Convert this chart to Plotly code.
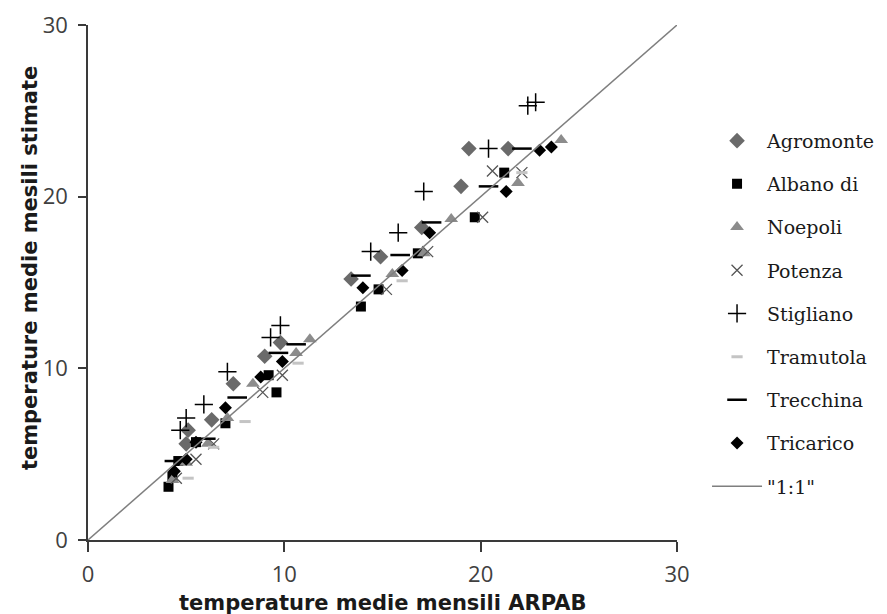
import plotly.graph_objects as go

# ---- data ----
agromonte_x = [5.0, 5.1, 6.3, 7.4, 9.0, 9.8, 13.4, 14.9, 17.0, 19.0, 19.4, 21.4]
agromonte_y = [5.6, 6.4, 7.0, 9.1, 10.7, 11.5, 15.2, 16.5, 18.2, 20.6, 22.8, 22.8]

albano_x = [4.1, 4.3, 4.6, 5.5, 7.0, 9.2, 9.6, 13.9, 14.8, 16.8, 19.7, 21.2]
albano_y = [3.1, 3.7, 4.6, 5.7, 6.8, 9.6, 8.6, 13.6, 14.6, 16.7, 18.8, 21.4]

noepoli_x = [4.3, 5.0, 6.1, 7.1, 8.4, 10.6, 11.3, 15.5, 17.1, 18.5, 21.9, 24.1]
noepoli_y = [3.5, 4.5, 5.6, 7.1, 9.1, 10.9, 11.7, 15.5, 16.7, 18.7, 20.8, 23.3]

potenza_x = [4.5, 5.5, 6.4, 8.9, 9.9, 15.2, 17.3, 20.1, 20.6, 22.1]
potenza_y = [3.6, 4.7, 5.6, 8.6, 9.6, 14.6, 16.8, 18.8, 21.5, 21.4]

stigliano_x = [4.7, 5.0, 5.9, 7.1, 9.3, 9.8, 14.4, 15.8, 17.1, 20.4, 22.4, 22.8]
stigliano_y = [6.4, 7.1, 7.9, 9.8, 11.8, 12.5, 16.8, 17.9, 20.3, 22.8, 25.3, 25.5]

tramutola_x = [5.1, 6.4, 8.0, 10.7, 16.0, 22.1]
tramutola_y = [3.6, 5.4, 6.9, 10.3, 15.1, 21.4]

trecchina_x = [4.4, 6.0, 7.6, 9.7, 10.6, 13.9, 15.9, 17.5, 20.4, 22.1]
trecchina_y = [4.6, 5.9, 8.3, 10.9, 11.4, 15.4, 16.6, 18.5, 20.6, 22.8]

tricarico_x = [4.4, 5.0, 5.5, 7.0, 8.8, 9.9, 14.0, 16.0, 17.4, 21.3, 23.0, 23.6]
tricarico_y = [4.0, 4.7, 5.7, 7.7, 9.5, 10.4, 14.7, 15.7, 17.9, 20.3, 22.7, 22.9]

one_to_one = [0, 30]
tick_vals = [0, 10, 20, 30]

x_title = "temperature medie mensili ARPAB"
y_title = "temperature medie mesili stimate"

fig = go.Figure()

def add(name, xs, ys, marker):
    fig.add_trace(go.Scatter(x=xs, y=ys, mode="markers", name=name,
                             legendgroup=name, marker=marker, cliponaxis=False))

add("Agromonte", agromonte_x, agromonte_y,
    dict(symbol="diamond", size=12, color="#6a6a6a"))
add("Albano di", albano_x, albano_y,
    dict(symbol="square", size=10, color="#000000"))
add("Noepoli", noepoli_x, noepoli_y,
    dict(symbol="triangle-up", size=12, color="#8c8c8c"))
add("Potenza", potenza_x, potenza_y,
    dict(symbol="x-thin", size=11, color="#555555",
         line=dict(color="#555555", width=1.3)))
add("Stigliano", stigliano_x, stigliano_y,
    dict(symbol="cross-thin", size=13, color="#000000",
         line=dict(color="#000000", width=1.5)))
add("Tramutola", tramutola_x, tramutola_y,
    dict(symbol="line-ew", size=8, color="#c4c4c4",
         line=dict(color="#c4c4c4", width=3)))
add("Trecchina", trecchina_x, trecchina_y,
    dict(symbol="line-ew", size=14, color="#000000",
         line=dict(color="#000000", width=2.5)))
add("Tricarico", tricarico_x, tricarico_y,
    dict(symbol="diamond", size=10, color="#000000"))

fig.add_trace(go.Scatter(x=one_to_one, y=one_to_one, mode="lines",
                         name='"1:1"', legendgroup="1:1",
                         line=dict(color="#7f7f7f", width=1.5)))

axis_common = dict(range=[0, 30], tickvals=tick_vals, showgrid=False,
                   zeroline=False, showline=True, linecolor="#3a3a3a",
                   linewidth=1.5, ticks="outside", tickcolor="#3a3a3a",
                   tickwidth=1.5, automargin=False,
                   tickfont=dict(family="Open Sans, Lato, sans-serif",
                                 size=22, color="#404040"))

title_font = dict(family="DejaVu Sans, sans-serif", size=21, color="#1a1a1a")

# the page adds an 8px body margin, so the figure is 8px smaller and margins
# are reduced on the top/left accordingly
fig.update_layout(
    width=879, height=606,
    margin=dict(l=80, r=210, t=17, b=74, autoexpand=False),
    paper_bgcolor="white", plot_bgcolor="white",
    xaxis=dict(**axis_common, ticklen=10, ticklabelstandoff=4),
    yaxis=dict(**axis_common, ticklen=8, ticklabelstandoff=6),
    legend=dict(x=1.051, xanchor="left", y=0.812, yanchor="top",
                xref="paper", yref="paper",
                font=dict(family="DejaVu Serif, serif", size=19, color="#1a1a1a"),
                itemwidth=50, tracegroupgap=15.5, bgcolor="rgba(0,0,0,0)"),
    showlegend=True,
    annotations=[
        dict(text="<b>" + x_title + "</b>", xref="paper", yref="paper",
             x=0.5, y=0, xanchor="center", yanchor="middle", yshift=-63,
             showarrow=False, font=title_font),
        dict(text="<b>" + y_title + "</b>", xref="paper", yref="paper",
             x=0, y=0.528, xanchor="center", yanchor="middle", xshift=-58,
             textangle=-90, showarrow=False, font=title_font),
    ],
)

fig.write_html("out.html")
